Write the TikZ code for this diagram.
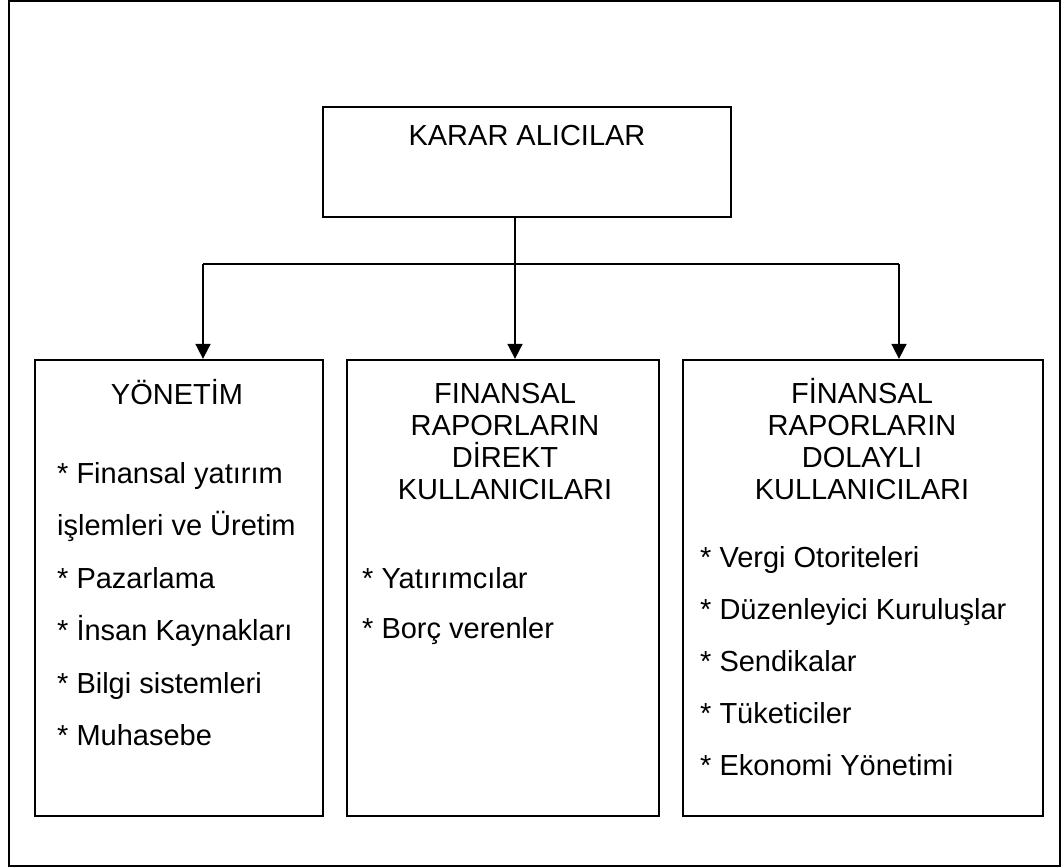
\documentclass[tikz,border=0pt]{standalone}
\usepackage{fontspec}
\setmainfont{Liberation Sans}
\usetikzlibrary{arrows.meta}
\begin{document}
\begin{tikzpicture}[x=1pt,y=-1pt,
  box/.style={draw, line width=2.3pt, inner sep=0pt},
  title/.style={anchor=base, inner sep=0pt, font=\fontsize{29}{33}\selectfont},
  item/.style={anchor=base west, inner sep=0pt, font=\fontsize{29}{33}\selectfont},
  arr/.style={line width=1.8pt, -{Triangle[width=15pt,length=15pt]}}]
\useasboundingbox (0,0) rectangle (1061,868);
\draw[line width=1.8pt] (9,1) rectangle (1060,866);
% boxes
\node[box, minimum width=408pt, minimum height=110pt] (karar) at (527,162){};
\node[box, minimum width=288pt, minimum height=456pt] (yon) at (179,588){};
\node[box, minimum width=312pt, minimum height=456pt] (dir) at (503,588){};
\node[box, minimum width=360pt, minimum height=456pt] (dol) at (863,588){};
% titles
\node[title] (karart) at (527,145){KARAR ALICILAR};
\node[title] (yont) at (177,404){YÖNETİM};
\foreach \t [count=\i] in {FINANSAL, RAPORLARIN, DİREKT, KULLANICILARI}
  \node[title] (dirt\i) at (505,403+32*\i-32){\t};
\foreach \t [count=\i] in {FİNANSAL, RAPORLARIN, DOLAYLI, KULLANICILARI}
  \node[title] (dolt\i) at (862,403+32*\i-32){\t};
% lists
\foreach \t [count=\i] in {* Finansal yatırım, işlemleri ve Üretim, * Pazarlama,
  * İnsan Kaynakları, * Bilgi sistemleri, * Muhasebe}
  \node[item] (yoni\i) at (57,483+52.5*\i-52.5){\t};
\foreach \t [count=\i] in {* Yatırımcılar, * Borç verenler}
  \node[item] (diri\i) at (362,588+50*\i-50){\t};
\foreach \t [count=\i] in {* Vergi Otoriteleri, * Düzenleyici Kuruluşlar, * Sendikalar,
  * Tüketiciler, * Ekonomi Yönetimi}
  \node[item] (doli\i) at (700,567+52*\i-52){\t};
% connectors
\coordinate (hub) at (515,264);
\coordinate (hubL) at (203,264);
\coordinate (hubR) at (899,264);
\draw[line width=1.8pt] (karar.south -| hub) -- (hub);
\draw[line width=1.8pt] (hubL) -- (hubR);
\draw[arr] (hub) -- (hub |- dir.north);
\draw[arr] (hubL) -- (hubL |- yon.north);
\draw[arr] (hubR) -- (hubR |- dol.north);
\end{tikzpicture}
\end{document}
